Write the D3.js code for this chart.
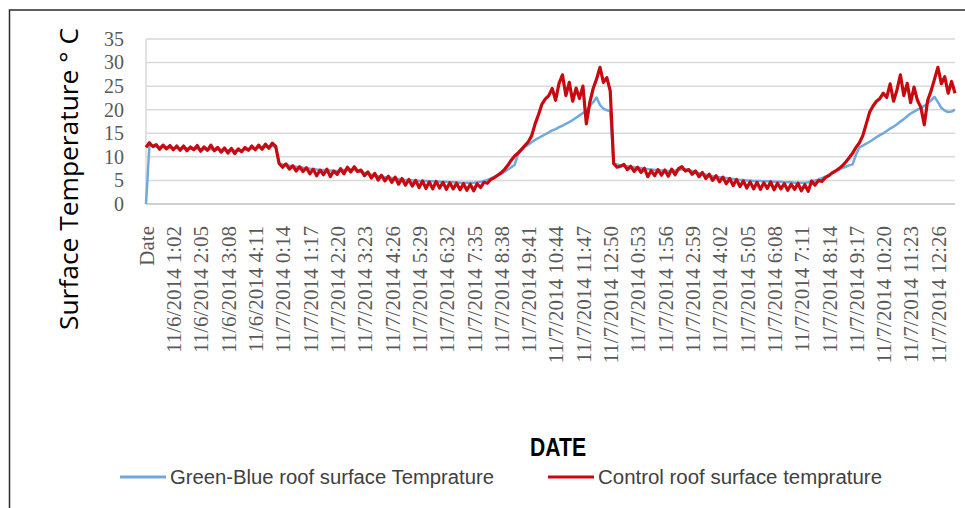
<!DOCTYPE html>
<html>
<head>
<meta charset="utf-8">
<script src="https://cdn.jsdelivr.net/npm/d3@7"></script>
<style>
  body { margin: 0; background: #fff; }
  svg { display: block; }
</style>
</head>
<body>
<svg id="chart" width="965" height="508"></svg>
<script>
// category labels, one every 8 samples
const xLabels = [
  "Date", "11/6/2014 1:02", "11/6/2014 2:05", "11/6/2014 3:08", "11/6/2014 4:11",
  "11/7/2014 0:14", "11/7/2014 1:17", "11/7/2014 2:20", "11/7/2014 3:23", "11/7/2014 4:26",
  "11/7/2014 5:29", "11/7/2014 6:32", "11/7/2014 7:35", "11/7/2014 8:38", "11/7/2014 9:41",
  "11/7/2014 10:44", "11/7/2014 11:47", "11/7/2014 12:50", "11/7/2014 0:53", "11/7/2014 1:56",
  "11/7/2014 2:59", "11/7/2014 4:02", "11/7/2014 5:05", "11/7/2014 6:08", "11/7/2014 7:11",
  "11/7/2014 8:14", "11/7/2014 9:17", "11/7/2014 10:20", "11/7/2014 11:23", "11/7/2014 12:26"
];
const yTicks = [0, 5, 10, 15, 20, 25, 30, 35];
const samplesPerLabel = 8;

// Control roof (red)
const controlTemp = [
  12.0, 13.0, 12.2, 12.6, 11.6, 12.5, 11.7, 12.4, 11.5, 12.3,
  11.4, 12.3, 11.3, 12.1, 11.5, 12.4, 11.2, 12.1, 11.4, 12.5,
  11.3, 12.0, 11.0, 11.9, 10.8, 11.8, 10.7, 11.7, 11.1, 12.0,
  11.4, 12.3, 11.5, 12.5, 11.6, 12.7, 11.8, 12.9, 12.2,
  8.6, 7.8, 8.5, 7.4, 8.1, 7.0, 7.9, 6.9, 7.7, 6.4,
  7.4, 6.0, 7.2, 6.2, 7.4, 5.8, 7.0, 6.3, 7.5, 6.4,
  7.8, 6.8, 7.9, 6.9, 7.2, 6.0, 6.8, 5.5, 6.5, 5.1,
  6.1, 4.9, 5.9, 4.6, 5.7, 4.2, 5.4, 4.0, 5.2, 3.8,
  5.0, 3.5, 4.9, 3.3, 4.7, 3.2, 4.8, 3.4, 4.6, 3.1,
  4.5, 3.2, 4.4, 3.0, 4.3, 2.9, 4.2, 2.8, 4.3, 3.5,
  4.6, 4.4, 5.2, 5.6, 6.1, 6.6, 7.3, 8.2, 9.3, 10.2,
  10.8, 11.6, 12.4, 13.2, 14.5, 17.0, 19.0, 21.2, 22.3, 23.0,
  24.5, 22.0, 25.6, 27.4, 23.0, 25.8, 21.8, 24.6, 22.4, 25.0,
  17.0, 21.5, 24.5, 26.5, 29.0, 25.8, 26.8, 24.0,
  8.6, 7.8, 8.0, 8.4, 7.3, 8.0, 6.9, 7.8, 6.7, 7.6,
  5.8, 7.1, 6.0, 7.3, 6.1, 7.2, 5.9, 7.4, 6.2, 7.5,
  7.9, 7.0, 7.3, 6.3, 7.0, 5.8, 6.7, 5.4, 6.3, 5.0,
  6.0, 4.7, 5.7, 4.3, 5.4, 3.9, 5.2, 3.7, 4.9, 3.4,
  4.7, 3.2, 4.6, 3.1, 4.5, 3.3, 4.7, 3.0, 4.4, 3.2,
  4.3, 2.9, 4.2, 3.1, 4.4, 2.8, 4.1, 2.7, 4.9, 4.0,
  5.0, 4.8, 5.6, 6.0, 6.6, 7.0, 7.5, 8.1, 8.9, 9.8,
  10.8, 12.0, 13.0, 14.5, 17.0, 19.5, 20.8, 21.8, 22.4, 23.5,
  22.6, 25.5, 21.8, 24.2, 27.4, 23.0, 25.6, 21.5, 24.8, 22.0,
  20.5, 16.8, 22.0, 24.0, 26.5, 29.0, 25.5, 27.0, 23.5, 26.0,
  23.5
];

// Green-Blue roof (blue)
const greenBlueTemp = [
  0, 12.4, 12.3, 12.2, 12.1, 12.1, 12.0, 12.0, 11.9, 11.9,
  11.8, 11.8, 11.8, 11.7, 11.7, 11.7, 11.6, 11.6, 11.6, 11.6,
  11.5, 11.5, 11.5, 11.4, 11.4, 11.4, 11.3, 11.3, 11.4, 11.5,
  11.6, 11.7, 11.8, 11.9, 12.0, 12.1, 12.2, 12.3, 12.2,
  8.6, 8.4, 8.3, 8.1, 8.0, 7.9, 7.8, 7.7, 7.6, 7.5,
  7.4, 7.3, 7.2, 7.2, 7.1, 7.1, 7.0, 7.0, 7.1, 7.2,
  7.3, 7.3, 7.2, 7.0, 6.8, 6.6, 6.4, 6.2, 6.0, 5.9,
  5.8, 5.7, 5.6, 5.5, 5.4, 5.3, 5.2, 5.1, 5.1, 5.0,
  5.0, 4.9, 4.9, 4.9, 4.8, 4.8, 4.8, 4.7, 4.7, 4.7,
  4.6, 4.6, 4.6, 4.5, 4.5, 4.5, 4.5, 4.5, 4.6, 4.7,
  4.9, 5.1, 5.4, 5.7, 6.0, 6.4, 6.8, 7.3, 7.8, 8.3,
  10.6, 11.4, 12.1, 12.6, 13.1, 13.6, 14.0, 14.4, 14.8, 15.2,
  15.6, 15.9, 16.3, 16.6, 17.0, 17.4, 17.8, 18.3, 18.8, 19.3,
  19.8, 20.8, 21.6, 22.6, 21.0, 20.2, 19.9, 19.7,
  8.5, 8.4, 8.2, 8.1, 8.0, 7.9, 7.8, 7.7, 7.6, 7.5,
  7.4, 7.3, 7.2, 7.2, 7.1, 7.1, 7.0, 7.0, 7.1, 7.2,
  7.3, 7.3, 7.2, 7.0, 6.8, 6.6, 6.4, 6.2, 6.0, 5.9,
  5.8, 5.7, 5.6, 5.5, 5.4, 5.3, 5.2, 5.1, 5.1, 5.0,
  5.0, 4.9, 4.9, 4.9, 4.8, 4.8, 4.8, 4.7, 4.7, 4.7,
  4.6, 4.6, 4.6, 4.5, 4.5, 4.5, 4.5, 4.6, 4.8, 5.0,
  5.2, 5.5, 5.8, 6.1, 6.5, 6.9, 7.3, 7.6, 7.9, 8.2,
  8.4, 10.5, 12.0, 12.4, 12.8, 13.2, 13.7, 14.2, 14.6, 15.0,
  15.5, 16.0, 16.4, 16.9, 17.5, 18.0, 18.6, 19.2, 19.6, 20.0,
  20.4, 20.8, 21.4, 22.0, 22.7, 21.6, 20.4, 19.8, 19.5, 19.6,
  20.0
];

const seriesNames = ["Green-Blue roof surface  Temprature", "Control roof  surface temprature"];
const seriesColors = ["#72a9dd", "#c8090f"];

const svg = d3.select("#chart");

// plot area
const plotLeft = 146, plotRight = 955, plotTop = 39, plotBottom = 204;

const x = d3.scaleLinear()
  .domain([0, controlTemp.length - 1])
  .range([plotLeft, plotRight]);
const y = d3.scaleLinear()
  .domain([0, 35])
  .range([plotBottom, plotTop]);

// outer frame (only top and left edges visible)
svg.append("path")
  .attr("d", `M9.5,508 V10 H965`)
  .attr("fill", "none")
  .attr("stroke", "#2b2b2b")
  .attr("stroke-width", 1.5);

// gridlines
svg.append("g")
  .selectAll("line")
  .data(yTicks.filter((d) => d > 0))
  .enter()
  .append("line")
  .attr("x1", plotLeft)
  .attr("x2", plotRight)
  .attr("y1", (d) => y(d))
  .attr("y2", (d) => y(d))
  .attr("stroke", "#d9d9d9")
  .attr("stroke-width", 1.5);

// axis lines
svg.append("line")
  .attr("x1", plotLeft).attr("x2", plotLeft)
  .attr("y1", plotTop).attr("y2", plotBottom)
  .attr("stroke", "#d9d9d9").attr("stroke-width", 1.5);
svg.append("line")
  .attr("x1", plotLeft).attr("x2", plotRight)
  .attr("y1", plotBottom).attr("y2", plotBottom)
  .attr("stroke", "#bfbfbf").attr("stroke-width", 1.5);

// y tick labels
const yAxis = svg.append("g")
  .attr("transform", `translate(${plotLeft - 22},0)`)
  .call(d3.axisLeft(y).tickValues(yTicks).tickSize(0).tickPadding(0));
yAxis.select(".domain").remove();
yAxis.selectAll("text")
  .attr("font-family", "'Liberation Serif', 'DejaVu Serif', serif")
  .attr("font-size", 20)
  .attr("fill", "#595959");

// x tick labels
const xAxis = svg.append("g")
  .attr("transform", `translate(0,${plotBottom})`)
  .call(
    d3.axisBottom(x)
      .tickValues(xLabels.map((d, i) => i * samplesPerLabel))
      .tickFormat((d, i) => xLabels[i])
      .tickSize(0)
  );
xAxis.select(".domain").remove();
xAxis.selectAll("text")
  .attr("font-family", "'Liberation Serif', 'DejaVu Serif', serif")
  .attr("font-size", 21)
  .attr("fill", "#595959")
  .attr("text-anchor", "end")
  .attr("transform", "rotate(-90)")
  .attr("x", -22)
  .attr("y", 0)
  .attr("dy", "0.35em");

// lines
const line = d3.line()
  .x((d, i) => x(i))
  .y((d) => y(d));

svg.append("path")
  .datum(greenBlueTemp)
  .attr("d", line)
  .attr("fill", "none")
  .attr("stroke", seriesColors[0])
  .attr("stroke-width", 2.5)
  .attr("stroke-linejoin", "round");

svg.append("path")
  .datum(controlTemp)
  .attr("d", line)
  .attr("fill", "none")
  .attr("stroke", seriesColors[1])
  .attr("stroke-width", 3.2)
  .attr("stroke-linejoin", "round");

// axis titles
svg.append("text")
  .attr("transform", "translate(78,179) rotate(-90)")
  .attr("text-anchor", "middle")
  .attr("font-family", "'Open Sans', 'Liberation Sans', sans-serif")
  .attr("font-size", 25)
  .attr("fill", "#000")
  .attr("textLength", 302)
  .attr("lengthAdjust", "spacingAndGlyphs")
  .text("Surface Temperature ° C");

svg.append("text")
  .attr("x", 558)
  .attr("y", 456)
  .attr("text-anchor", "middle")
  .attr("font-family", "'Liberation Sans Narrow', 'Liberation Sans', sans-serif")
  .attr("font-weight", "bold")
  .attr("font-size", 26)
  .attr("fill", "#000")
  .attr("textLength", 56)
  .attr("lengthAdjust", "spacingAndGlyphs")
  .text("DATE");

// legend
const legendItems = [
  { x: 120, textLen: 324 },
  { x: 548, textLen: 284 }
];
const legend = svg.append("g")
  .selectAll("g")
  .data(seriesNames)
  .enter()
  .append("g")
  .attr("transform", (d, i) => `translate(${legendItems[i].x},477)`);
legend.append("line")
  .attr("x1", 0).attr("x2", 46)
  .attr("y1", 0).attr("y2", 0)
  .attr("stroke", (d, i) => seriesColors[i])
  .attr("stroke-width", 3);
legend.append("text")
  .attr("x", 50)
  .attr("y", 7)
  .attr("font-family", "'Liberation Sans Narrow', 'Liberation Sans', sans-serif")
  .attr("font-size", 20)
  .attr("fill", "#404040")
  .attr("textLength", (d, i) => legendItems[i].textLen)
  .attr("lengthAdjust", "spacingAndGlyphs")
  .text((d) => d);
</script>
</body>
</html>
